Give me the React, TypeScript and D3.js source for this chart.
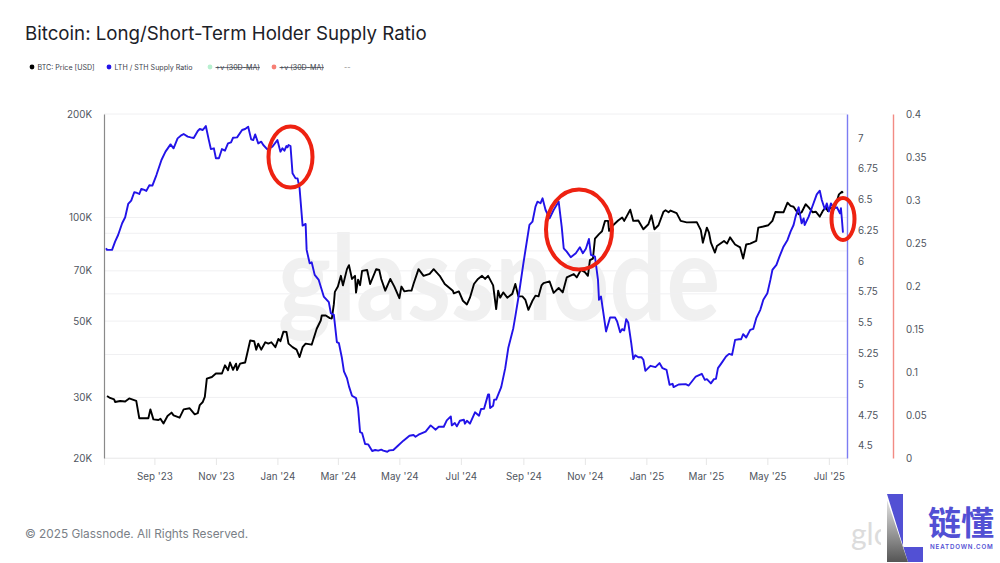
import React, { useEffect, useRef } from 'react';
import * as d3 from 'd3';

// days since 2023-07-13
const startDate = new Date(2023, 6, 13);
const endDay = 737;

const priceDays = [
	3, 6, 10, 11, 16, 21, 25, 32, 35, 41, 44, 46, 49, 54, 56, 59, 63, 67, 69, 75, 79, 85, 90, 93, 95, 98, 100, 102, 107,
	111, 117, 120, 123, 125, 128, 131, 132, 135, 140, 145, 149, 151, 153, 156, 160, 163, 166, 170, 173, 175, 178, 181,
	183, 187, 191, 194, 197, 200, 206, 211, 215, 216, 220, 224, 226, 228, 229, 232, 235, 237, 241, 243, 246, 249, 250,
	252, 254, 256, 261, 264, 270, 273, 275, 279, 284, 288, 293, 295, 298, 302, 305, 307, 312, 317, 323, 327, 333, 338,
	346, 347, 352, 356, 360, 363, 367, 371, 375, 378, 381, 386, 389, 391, 393, 396, 400, 405, 408, 411, 415, 418, 421,
	425, 428, 431, 434, 436, 442, 446, 451, 455, 459, 466, 469, 473, 477, 480, 482, 485, 487, 491, 494, 497, 500, 501,
	505, 510, 514, 516, 522, 525, 530, 535, 540, 543, 546, 550, 555, 557, 560, 562, 568, 572, 578, 588, 592, 594, 598,
	600, 602, 606, 608, 615, 618, 621, 626, 631, 634, 637, 641, 647, 649, 654, 659, 663, 666, 671, 674, 678, 681, 684,
	689, 692, 696, 699, 703, 706, 710, 713, 716, 718, 721, 724, 727, 729, 732, 733,
];
const priceValues = [
	30300, 29900, 29600, 29100, 29300, 29200, 29800, 29300, 26100, 26100, 26100, 27700, 25900, 25800, 26000, 25200, 26500,
	27100, 26600, 26200, 27700, 27900, 26800, 27000, 28500, 29100, 30100, 34000, 34400, 35200, 35200, 37200, 36000, 37900,
	36100, 37600, 36000, 37600, 37900, 43900, 43700, 41300, 43000, 41300, 43400, 43000, 43400, 42000, 44400, 43700, 46600,
	46500, 43000, 42000, 41300, 39300, 42000, 43000, 42700, 47500, 50200, 51900, 51900, 51000, 50900, 56000, 60800, 63000,
	67700, 63500, 70800, 72700, 66300, 67700, 60500, 66000, 63600, 70000, 70400, 64100, 70800, 70400, 66300, 61300, 66300,
	63000, 58300, 63000, 61000, 61300, 61300, 64100, 70800, 67700, 68600, 70800, 67700, 64100, 61300, 60200, 61000, 57300,
	55900, 58500, 64100, 66300, 67700, 66300, 67700, 63500, 54200, 61300, 58500, 60600, 58500, 60000, 64100, 59000, 59000,
	57600, 53900, 57300, 59300, 59000, 63500, 64500, 65200, 60400, 62400, 60600, 67000, 68500, 67000, 70400, 69400, 67700,
	75200, 76000, 86900, 89500, 91200, 97800, 97800, 91500, 95000, 98000, 100000, 97800, 105400, 97800, 98000, 92500, 95600,
	101500, 92500, 95000, 104000, 105000, 103600, 104800, 103000, 97800, 96800, 97000, 91900, 84500, 93500, 90600, 84500,
	79100, 82700, 85500, 84000, 87600, 83500, 81900, 76000, 83500, 84000, 85500, 93500, 94200, 95000, 97800, 103800, 103600,
	103600, 110500, 108100, 107500, 102200, 103600, 109300, 107000, 103600, 104000, 100600, 104500, 107000, 104500, 107000,
	105500, 111700, 116800, 118900, 118000,
];

const ratioDays = [
	2, 3, 8, 11, 14, 18, 21, 24, 27, 30, 32, 35, 37, 40, 42, 45, 48, 52, 57, 61, 66, 69, 73, 77, 79, 83, 86, 89, 93, 95, 98,
	101, 104, 106, 109, 111, 114, 117, 120, 123, 126, 128, 132, 137, 140, 143, 146, 148, 150, 153, 156, 158, 162, 167, 172,
	175, 177, 179, 181, 182, 183, 185, 187, 190, 192, 194, 196, 197, 200, 201, 204, 206, 209, 213, 218, 223, 225, 228, 231,
	233, 236, 238, 241, 243, 246, 250, 252, 254, 256, 259, 262, 266, 269, 272, 275, 277, 281, 283, 287, 291, 297, 303, 307,
	309, 312, 319, 324, 329, 332, 337, 340, 344, 345, 348, 350, 353, 357, 358, 360, 363, 368, 372, 374, 377, 381, 382, 383,
	386, 387, 389, 394, 398, 401, 406, 408, 411, 416, 422, 425, 428, 430, 433, 435, 438, 442, 446, 451, 454, 456, 459, 463,
	468, 472, 475, 478, 481, 483, 487, 490, 491, 493, 498, 502, 507, 509, 512, 514, 516, 518, 520, 523, 525, 527, 530, 533,
	535, 537, 542, 547, 551, 554, 558, 561, 564, 565, 570, 577, 580, 587, 593, 596, 598, 602, 605, 607, 609, 612, 617, 620,
	623, 626, 630, 632, 634, 637, 641, 644, 647, 651, 654, 658, 661, 663, 667, 670, 674, 678, 681, 684, 686, 689, 692, 694,
	695, 699, 702, 707, 710, 712, 715, 717, 719, 721, 724, 727, 730, 731, 732, 733,
];
const ratioValues = [
	6.104, 6.091, 6.091, 6.158, 6.212, 6.307, 6.356, 6.464, 6.491, 6.559, 6.556, 6.545, 6.586, 6.578, 6.57, 6.616, 6.613,
	6.699, 6.821, 6.889, 6.948, 6.916, 6.997, 7.024, 7.032, 7.011, 7.005, 7.0, 7.057, 7.073, 7.065, 7.097, 6.983, 6.91, 6.916,
	6.835, 6.835, 6.91, 6.897, 6.956, 6.965, 7.002, 7.005, 7.065, 7.073, 7.092, 6.989, 6.983, 7.029, 6.956, 6.97, 6.943, 6.908,
	6.929, 6.983, 6.889, 6.916, 6.897, 6.935, 6.924, 6.943, 6.935, 6.713, 6.672, 6.672, 6.591, 6.388, 6.288, 6.302, 6.091,
	5.982, 5.99, 5.888, 5.847, 5.712, 5.666, 5.577, 5.563, 5.342, 5.333, 5.212, 5.103, 5.049, 4.982, 4.906, 4.887, 4.806,
	4.611, 4.603, 4.514, 4.511, 4.457, 4.465, 4.46, 4.468, 4.46, 4.451, 4.462, 4.465, 4.495, 4.541, 4.581, 4.587, 4.573,
	4.589, 4.614, 4.665, 4.63, 4.654, 4.654, 4.706, 4.738, 4.665, 4.684, 4.657, 4.703, 4.711, 4.679, 4.703, 4.679, 4.771,
	4.744, 4.798, 4.8, 4.917, 4.917, 4.806, 4.825, 4.874, 4.874, 4.976, 5.13, 5.293, 5.455, 5.55, 5.7, 5.982, 6.294, 6.32,
	6.442, 6.483, 6.47, 6.51, 6.415, 6.348, 6.415, 6.483, 6.28, 6.104, 6.077, 6.031, 6.064, 6.112, 6.064, 6.1, 6.18, 6.05,
	6.037, 5.847, 5.685, 5.712, 5.428, 5.541, 5.541, 5.509, 5.422, 5.447, 5.436, 5.528, 5.501, 5.333, 5.203, 5.235, 5.219,
	5.219, 5.198, 5.108, 5.149, 5.138, 5.171, 5.13, 5.116, 4.995, 5.003, 4.976, 4.997, 5.0, 4.989, 5.062, 5.084, 5.035, 5.041,
	5.006, 5.041, 5.043, 5.13, 5.165, 5.225, 5.246, 5.238, 5.36, 5.365, 5.365, 5.406, 5.379, 5.441, 5.449, 5.536, 5.604, 5.685,
	5.739, 5.847, 5.928, 5.969, 6.036, 6.117, 6.172, 6.239, 6.293, 6.361, 6.437, 6.307, 6.347, 6.293, 6.361, 6.429, 6.542,
	6.572, 6.496, 6.421, 6.469, 6.402, 6.469, 6.429, 6.437, 6.388, 6.429, 6.334, 6.231,
];

const priceGrid = [20000, 30000, 40000, 50000, 60000, 70000, 80000, 90000, 100000, 200000];
const priceTicks = [20000, 30000, 50000, 70000, 100000, 200000];
const ratioTicks = [4.5, 4.75, 5, 5.25, 5.5, 5.75, 6, 6.25, 6.5, 6.75, 7];
const redTicks = [0, 0.05, 0.1, 0.15, 0.2, 0.25, 0.3, 0.35, 0.4];
const dateTicks = [
	new Date(2023, 8, 1),
	new Date(2023, 10, 1),
	new Date(2024, 0, 1),
	new Date(2024, 2, 1),
	new Date(2024, 4, 1),
	new Date(2024, 6, 1),
	new Date(2024, 8, 1),
	new Date(2024, 10, 1),
	new Date(2025, 0, 1),
	new Date(2025, 2, 1),
	new Date(2025, 4, 1),
	new Date(2025, 6, 1),
];
const legendItems = [
	{ label: 'BTC: Price [USD]', color: '#000000', x: 32, struck: false },
	{ label: 'LTH / STH Supply Ratio', color: '#2213e8', x: 109, struck: false },
	{ label: '+v (30D-MA)', color: '#b8f0d0', x: 210, struck: true },
	{ label: '+v (30D-MA)', color: '#f77f75', x: 274, struck: true },
];

const font = 'Inter, Roboto, sans-serif';
const axisColor = '#4f5560';

const App = () => {
	const svgRef = useRef<SVGSVGElement>(null);

	useEffect(() => {
		const svg = d3.select(svgRef.current);
		svg.selectAll('*').remove();

		const left = 104;
		const right = 847;
		const top = 114;
		const bottom = 458;

		const x = d3
			.scaleTime()
			.domain([startDate, d3.timeDay.offset(startDate, endDay)])
			.range([left, right]);
		const yPrice = d3.scaleLog().domain([20000, 200000]).range([bottom, top]);
		const yRatio = d3.scaleLinear().domain([4.4, 7.195]).range([bottom, top]);
		const yRed = d3.scaleLinear().domain([0, 0.4]).range([bottom, top]);

		const clip = svg.append('defs');
		clip
			.append('clipPath')
			.attr('id', 'wm-clip')
			.append('rect')
			.attr('x', 840)
			.attr('y', 500)
			.attr('width', 41)
			.attr('height', 60);
		const grad = clip
			.append('linearGradient')
			.attr('id', 'logo-grey')
			.attr('x1', 0)
			.attr('y1', 0)
			.attr('x2', 0)
			.attr('y2', 1);
		grad.append('stop').attr('offset', '0%').attr('stop-color', '#e4e4e4');
		grad.append('stop').attr('offset', '100%').attr('stop-color', '#555555');

		// Title and legend
		svg
			.append('text')
			.attr('x', 25)
			.attr('y', 40)
			.attr('font-family', font)
			.attr('font-size', 18.7)
			.attr('fill', '#1c2128')
			.text('Bitcoin: Long/Short-Term Holder Supply Ratio');

		legendItems.forEach((d) => {
			svg.append('circle').attr('cx', d.x).attr('cy', 67).attr('r', 2.4).attr('fill', d.color);
			svg
				.append('text')
				.attr('x', d.x + 5.5)
				.attr('y', 70)
				.attr('font-family', font)
				.attr('font-size', 7.1)
				.attr('fill', '#3c424c')
				.attr('text-decoration', d.struck ? 'line-through' : null)
				.text(d.label);
		});
		svg
			.append('text')
			.attr('x', 344)
			.attr('y', 70)
			.attr('font-family', font)
			.attr('font-size', 7.2)
			.attr('fill', '#888888')
			.text('--');

		// Watermark
		svg
			.append('text')
			.attr('x', 278)
			.attr('y', 320)
			.attr('font-family', 'Lato, sans-serif')
			.attr('font-size', 118)
			.attr('font-weight', 700)
			.attr('textLength', 442)
			.attr('lengthAdjust', 'spacingAndGlyphs')
			.attr('fill', '#f0f0f0')
			.text('glassnode');

		// Gridlines
		svg
			.append('g')
			.selectAll('line')
			.data(priceGrid)
			.enter()
			.append('line')
			.attr('x1', left)
			.attr('x2', right)
			.attr('y1', (d) => yPrice(d))
			.attr('y2', (d) => yPrice(d))
			.attr('stroke', '#f0f0f2')
			.attr('stroke-width', 1);

		const styleAxis = (g: d3.Selection<SVGGElement, unknown, null, undefined>) => {
			g.selectAll('text').attr('font-family', font).attr('font-size', 9.8).attr('fill', axisColor);
		};

		// x axis
		const xAxis = svg
			.append('g')
			.attr('transform', `translate(0,${bottom})`)
			.call(
				d3
					.axisBottom(x)
					.tickValues(dateTicks)
					.tickSize(7)
					.tickPadding(8)
					.tickFormat((d) => d3.timeFormat("%b '%y")(d as Date)),
			);
		xAxis.select('.domain').attr('stroke', '#eeeeee');
		xAxis.selectAll('.tick line').attr('stroke', '#e6e6e6');
		styleAxis(xAxis as any);

		// left price axis
		const priceAxis = svg
			.append('g')
			.attr('transform', `translate(${left},0)`)
			.call(
				d3
					.axisLeft(yPrice)
					.tickValues(priceTicks)
					.tickSize(0)
					.tickPadding(12)
					.tickFormat((d) => `${(d as number) / 1000}K`),
			);
		priceAxis.select('.domain').attr('stroke', '#8a8a8a').attr('stroke-width', 1.2);
		styleAxis(priceAxis as any);

		// blue ratio axis
		const ratioAxis = svg
			.append('g')
			.attr('transform', `translate(${right},0)`)
			.call(d3.axisRight(yRatio).tickValues(ratioTicks).tickSize(0).tickPadding(11).tickFormat((d) => `${d}`));
		ratioAxis.select('.domain').attr('stroke', '#7c7cf2').attr('stroke-width', 1.4);
		styleAxis(ratioAxis as any);

		// red axis, no series visible on it
		const redAxis = svg
			.append('g')
			.attr('transform', 'translate(893,0)')
			.call(d3.axisRight(yRed).tickValues(redTicks).tickSize(0).tickPadding(13).tickFormat((d) => `${d}`));
		redAxis.select('.domain').attr('stroke', '#f28b84').attr('stroke-width', 1.4);
		styleAxis(redAxis as any);

		// Series
		const priceLine = d3
			.line<number>()
			.x((d) => x(d3.timeDay.offset(startDate, d)))
			.y((_, i) => yPrice(priceValues[i]));
		const ratioLine = d3
			.line<number>()
			.x((d) => x(d3.timeDay.offset(startDate, d)))
			.y((_, i) => yRatio(ratioValues[i]));

		svg
			.append('path')
			.attr('d', priceLine(priceDays) as string)
			.attr('fill', 'none')
			.attr('stroke', '#000000')
			.attr('stroke-width', 1.9)
			.attr('stroke-linejoin', 'round');
		svg
			.append('path')
			.attr('d', ratioLine(ratioDays) as string)
			.attr('fill', 'none')
			.attr('stroke', '#2213e8')
			.attr('stroke-width', 1.9)
			.attr('stroke-linejoin', 'round');

		// Hand-drawn red circles
		const circles = [
			{ cx: 290.5, cy: 157, rx: 22, ry: 30.5 },
			{ cx: 579, cy: 229.5, rx: 33, ry: 40 },
			{ cx: 843, cy: 219, rx: 11.5, ry: 21 },
		];
		svg
			.append('g')
			.selectAll('ellipse')
			.data(circles)
			.enter()
			.append('ellipse')
			.attr('cx', (d) => d.cx)
			.attr('cy', (d) => d.cy)
			.attr('rx', (d) => d.rx)
			.attr('ry', (d) => d.ry)
			.attr('fill', 'none')
			.attr('stroke', '#ee2211')
			.attr('stroke-width', 4);

		// Footer
		svg
			.append('text')
			.attr('x', 25)
			.attr('y', 538)
			.attr('font-family', font)
			.attr('font-size', 11.8)
			.attr('fill', '#7a7f87')
			.text('© 2025 Glassnode. All Rights Reserved.');
		svg
			.append('text')
			.attr('x', 851)
			.attr('y', 545)
			.attr('clip-path', 'url(#wm-clip)')
			.attr('font-family', 'Lato, sans-serif')
			.attr('font-size', 30)
			.attr('fill', '#dcdcdc')
			.text('glo');

		// Neatdown logo
		svg.append('path').attr('d', 'M887,494H903V547H923V562H908Z').attr('fill', '#5250d4');
		svg.append('path').attr('d', 'M887,500V562H908Z').attr('fill', 'url(#logo-grey)');
		svg
			.append('text')
			.attr('x', 928)
			.attr('y', 535)
			.attr('font-family', '"Noto Sans CJK SC", sans-serif')
			.attr('font-size', 33)
			.attr('font-weight', 700)
			.attr('fill', '#5250d4')
			.text('链懂');
		svg
			.append('text')
			.attr('x', 930)
			.attr('y', 549)
			.attr('font-family', font)
			.attr('font-size', 6.2)
			.attr('letter-spacing', 0.85)
			.attr('font-weight', 600)
			.attr('fill', '#5250d4')
			.text('NEATDOWN.COM');
	}, []);

	return (
		<svg
			ref={svgRef}
			width={1000}
			height={563}
			style={{ position: 'absolute', left: 0, top: 0, background: '#ffffff' }}
		/>
	);
};

export default App;
